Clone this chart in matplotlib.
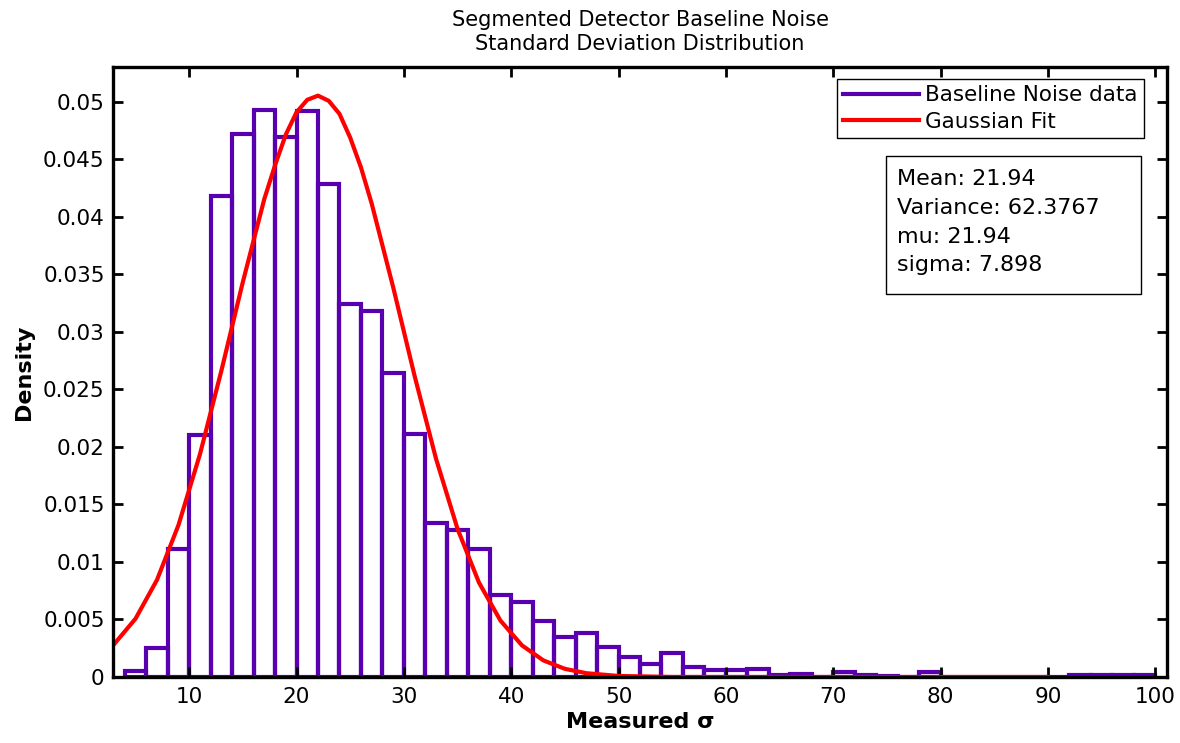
import matplotlib.pyplot as plt
import matplotlib.patches as patches
from matplotlib.lines import Line2D
from matplotlib.ticker import FuncFormatter

# histogram bins (left edges, width 2) and densities
bin_left = [4, 6, 8, 10, 12, 14, 16, 18, 20, 22, 24, 26, 28, 30, 32, 34,
            36, 38, 40, 42, 44, 46, 48, 50, 52, 54, 56, 58, 60, 62, 64, 66,
            68, 70, 72, 74, 76, 78, 80, 82, 84, 86, 88, 90, 92, 94, 96, 98]
density = [0.0005, 0.0025, 0.0111, 0.0210, 0.0418, 0.0472, 0.0493, 0.0469,
           0.0492, 0.0428, 0.0324, 0.0318, 0.0264, 0.0211, 0.0134, 0.0128,
           0.0111, 0.0071, 0.0065, 0.0049, 0.0035, 0.0038, 0.0026, 0.0017,
           0.0011, 0.0021, 0.0009, 0.0006, 0.0006, 0.0007, 0.0002, 0.0003,
           0.0, 0.0004, 0.0002, 0.0001, 0.0, 0.0004, 0.0, 0.0, 0.0, 0.0,
           0.0, 0.0, 0.0002, 0.0002, 0.0002, 0.0002]
bin_width = 2

# red fit curve
fit_x = [3, 5, 7, 9, 11, 13, 15, 17, 18, 19, 20, 21, 22, 23, 24, 25, 26,
         27, 29, 31, 33, 35, 37, 39, 41, 43, 45, 47, 50, 55, 60, 90]
fit_y = [0.00285, 0.00507, 0.00844, 0.0132, 0.01935, 0.02662, 0.03433,
         0.04154, 0.04447, 0.04713, 0.04907, 0.05015, 0.05051, 0.05006,
         0.04893, 0.04686, 0.04428, 0.04114, 0.03388, 0.02616, 0.01895,
         0.01287, 0.0082, 0.0049, 0.00275, 0.00144, 0.00071, 0.00033,
         0.00009, 0.0, 0.0, 0.0]

stats = ["Mean: 21.94", "Variance: 62.3767", "mu: 21.94", "sigma: 7.898"]

purple = "#5800b0"
red = "#ff0000"

plt.rcParams["font.family"] = ["DejaVu Sans"]

fig = plt.figure(figsize=(11.8, 7.43), dpi=100)
ax = fig.add_axes([113 / 1180, 1 - 677 / 743, 1054 / 1180, 610 / 743])

ax.bar(bin_left, density, width=bin_width, align="edge", fill=False,
       edgecolor=purple, linewidth=3, zorder=1)
ax.plot(fit_x, fit_y, color=red, linewidth=3, zorder=2)

ax.set_xlim(2.9, 101.1)
ax.set_ylim(0, 0.053)
ax.set_xticks(range(10, 101, 10))
ax.set_yticks([i * 0.005 for i in range(11)])
ax.yaxis.set_major_formatter(FuncFormatter(lambda v, p: "%g" % round(v, 4)))
ax.tick_params(direction="in", length=7, width=2, labelsize=15.5,
               top=True, right=True)
ax.tick_params(axis="x", pad=7)
ax.tick_params(axis="y", pad=6)
for s in ax.spines.values():
    s.set_linewidth(2.4)
    s.set_zorder(3)

ax.set_xlabel("Measured σ", fontsize=16, fontweight="bold")
ax.set_ylabel("Density", fontsize=16, fontweight="bold")
ax.xaxis.set_label_coords(0.5, -0.058)
ax.yaxis.set_label_coords(-0.075, 0.5)

ax.set_title("Segmented Detector Baseline Noise\nStandard Deviation Distribution",
             fontsize=15, linespacing=1.3, pad=12)

handles = [Line2D([], [], color=purple, linewidth=3),
           Line2D([], [], color=red, linewidth=3)]
leg = fig.legend(handles, ["Baseline Noise data", "Gaussian Fit"],
                 loc="upper right", bbox_to_anchor=(1144 / 1180, 1 - 79 / 743),
                 fontsize=15.5, handlelength=3.5, handletextpad=0.3,
                 labelspacing=0.3, borderpad=0.3, borderaxespad=0,
                 fancybox=False, framealpha=1, edgecolor="black")
leg.get_frame().set_linewidth(1)

box = patches.Rectangle((886 / 1180, 1 - 294 / 743), 255 / 1180, 138 / 743,
                        transform=fig.transFigure, facecolor="white",
                        edgecolor="black", linewidth=1)
fig.patches.append(box)
fig.text(897 / 1180, 1 - 169 / 743, "\n".join(stats), fontsize=16,
         va="top", ha="left", linespacing=1.55)

fig.savefig("out.png", dpi=100)
